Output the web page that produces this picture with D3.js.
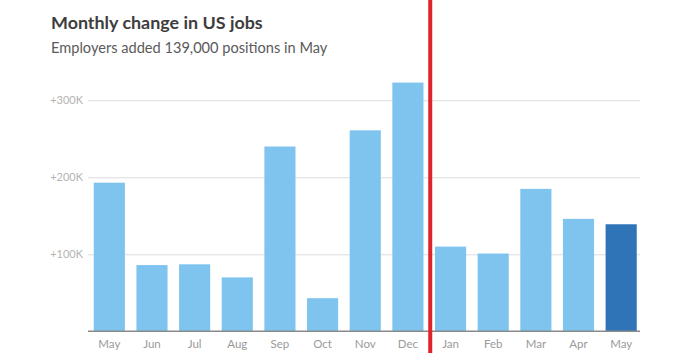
<!DOCTYPE html>
<html lang="en">
<head>
  <meta charset="UTF-8">
  <title>Monthly change in US jobs</title>
  <script src="https://d3js.org/d3.v7.min.js"></script>
  <style>
    body { margin: 0; background: #fff; }
    svg { display: block; font-family: Lato, 'Open Sans', sans-serif; }
  </style>
</head>
<body>
<script>
  // months May 2024 .. May 2025, values in thousands of jobs
  const months = ['May', 'Jun', 'Jul', 'Aug', 'Sep', 'Oct', 'Nov', 'Dec', 'Jan', 'Feb', 'Mar', 'Apr', 'May']
  const values = [193, 86, 87, 70, 240, 43, 261, 323, 110, 101, 185, 146, 139]
  const yTicks = [100, 200, 300]
  const splitAfter = 7 // year boundary after Dec

  const width = 693
  const height = 353
  const margin = { top: 60, right: 52, bottom: 22, left: 89.5 }

  const svg = d3.select('body').append('svg')
    .attr('width', width)
    .attr('height', height)
    .attr('viewBox', [0, 0, width, height])

  svg.append('text')
    .attr('x', 51).attr('y', 29)
    .attr('fill', '#3d3d3d')
    .style('font-size', '17.9px')
    .style('font-weight', 700)
    .text('Monthly change in US jobs')

  svg.append('text')
    .attr('x', 51).attr('y', 53)
    .attr('fill', '#5a5a5a')
    .style('font-size', '14.6px')
    .text('Employers added 139,000 positions in May')

  const x = d3.scaleBand()
    .domain(d3.range(values.length))
    .range([margin.left, width - margin.right])
    .paddingInner(0.27)
    .paddingOuter(0.1)

  const y = d3.scaleLinear()
    .domain([0, 100])
    .range([331.3, 254.3])

  // grid + y labels
  const yAxis = g => g
    .attr('transform', `translate(88,0)`)
    .call(d3.axisLeft(y).tickValues(yTicks).tickSize(0).tickPadding(5)
      .tickFormat(d => `+${d}K`))
    .call(g => g.select('.domain').remove())
    .call(g => g.selectAll('text')
      .attr('fill', '#b3b3b3')
      .style('font-size', '11px')
      .style('font-family', 'Lato, sans-serif'))
    .call(g => g.selectAll('.tick').append('line')
      .attr('x1', 0)
      .attr('x2', 640 - 88)
      .attr('stroke', '#dcdcdc')
      .attr('stroke-width', 1))

  svg.append('g').call(yAxis)

  svg.append('g')
    .selectAll('rect')
    .data(values)
    .join('rect')
    .attr('x', (d, i) => x(i))
    .attr('y', d => y(d))
    .attr('width', x.bandwidth())
    .attr('height', d => y(0) - y(d))
    .attr('fill', (d, i) => i === values.length - 1 ? '#2f74b7' : '#7fc4ef')

  const xAxis = g => g
    .attr('transform', `translate(0,${y(0)})`)
    .call(d3.axisBottom(x).tickFormat(i => months[i]).tickSize(0).tickPadding(9).tickSizeOuter(0))
    .call(g => g.select('.domain').attr('stroke', '#8a8a8a').attr('stroke-width', 1.5)
      .attr('d', 'M88,0H640'))
    .call(g => g.selectAll('text')
      .attr('fill', '#9a9a9a')
      .style('font-size', '11.5px')
      .style('font-family', 'Lato, sans-serif'))

  svg.append('g').call(xAxis)

  // year divider
  const step = x.step()
  const splitX = x(splitAfter) + x.bandwidth() + (step - x.bandwidth()) / 2 + 1
  svg.append('line')
    .attr('x1', splitX).attr('x2', splitX)
    .attr('y1', 0).attr('y2', height)
    .attr('stroke', '#e0232b')
    .attr('stroke-width', 4)
</script>
</body>
</html>
